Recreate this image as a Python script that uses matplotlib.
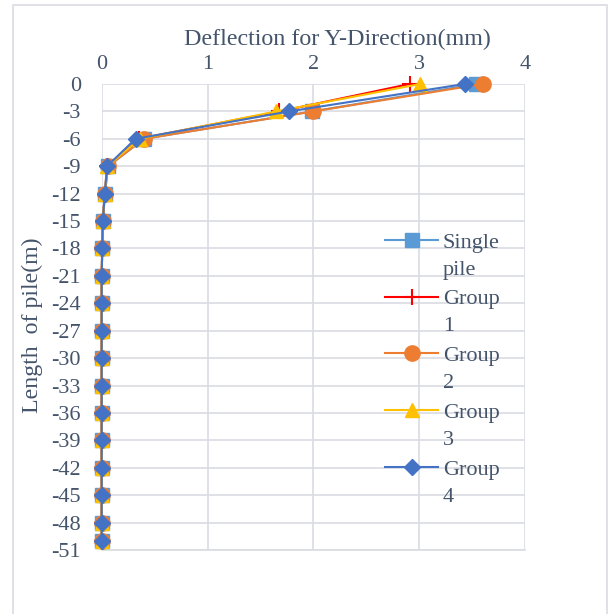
import matplotlib
matplotlib.use("Agg")
import matplotlib.pyplot as plt
from matplotlib.patches import Rectangle

# Pile depth (m) and lateral deflection in Y direction (mm)
depth = [0, -3, -6, -9, -12, -15, -18, -21, -24, -27, -30, -33, -36, -39, -42, -45, -48, -50]
single_pile = [3.54, 1.99, 0.40, 0.06, 0.03, 0.01, 0.005, 0.0, 0.0, 0.0, 0.0, 0.0, 0.0, 0.0, 0.0, 0.0, 0.0, 0.0]
group_1 = [2.91, 1.68, 0.35, 0.05, 0.03, 0.01, 0.005, 0.0, 0.0, 0.0, 0.0, 0.0, 0.0, 0.0, 0.0, 0.0, 0.0, 0.0]
group_2 = [3.60, 2.00, 0.40, 0.06, 0.03, 0.01, 0.005, 0.0, 0.0, 0.0, 0.0, 0.0, 0.0, 0.0, 0.0, 0.0, 0.0, 0.0]
group_3 = [3.01, 1.65, 0.36, 0.05, 0.03, 0.01, 0.005, 0.0, 0.0, 0.0, 0.0, 0.0, 0.0, 0.0, 0.0, 0.0, 0.0, 0.0]
group_4 = [3.43, 1.77, 0.32, 0.05, 0.03, 0.01, 0.005, 0.0, 0.0, 0.0, 0.0, 0.0, 0.0, 0.0, 0.0, 0.0, 0.0, 0.0]

# legend names, wrapped over two lines
label_first = ["Single", "Group", "Group", "Group", "Group"]
label_second = ["pile", "1", "2", "3", "4"]
x_ticks = [0, 1, 2, 3, 4]
y_ticks = list(range(0, -52, -3))

text_color = "#44546A"
grid_color = "#D9DCE3"
plt.rcParams["font.family"] = ["Liberation Serif", "DejaVu Serif"]
plt.rcParams["axes.unicode_minus"] = False

W, H = 608, 614
fig = plt.figure(figsize=(W / 100, H / 100), dpi=100)
fig.patches.append(Rectangle((13 / W, -0.05), 594 / W, 1 - 5 / H + 0.05,
                             transform=fig.transFigure, fill=False,
                             edgecolor=grid_color, linewidth=1.2))

ax = fig.add_axes([101.7 / W, 1 - 550 / H, 423.3 / W, 466 / H])

styles = [
    dict(color="#5B9BD5", marker="s", ms=10.5),
    dict(color="#FF0000", marker="+", ms=11, mew=1.5),
    dict(color="#ED7D31", marker="o", ms=11),
    dict(color="#FFC000", marker="^", ms=10),
    dict(color="#4472C4", marker="D", ms=8),
]
series = [single_pile, group_1, group_2, group_3, group_4]
for vals, lab, st in zip(series, label_first, styles):
    ax.plot(vals, depth, label=lab, lw=1.5, clip_on=False, zorder=3, **st)

ax.set_xlim(0, 4)
ax.set_ylim(-51, 0)
ax.set_xticks(x_ticks)
ax.set_yticks(y_ticks)
ax.xaxis.tick_top()
ax.tick_params(axis="both", length=0, labelsize=16, labelcolor=text_color)
ax.tick_params(axis="x", pad=7)
ax.tick_params(axis="y", pad=15)
ax.grid(True, color=grid_color, linewidth=1.2)
ax.set_axisbelow(True)
for sp in ax.spines.values():
    sp.set_visible(False)
ax.spines["bottom"].set_visible(True)
ax.spines["bottom"].set_color(grid_color)
ax.spines["bottom"].set_linewidth(1.2)

fig.text(337 / W, 1 - 45 / H, "Deflection for Y-Direction(mm)", fontsize=17.3,
         color=text_color, ha="center", va="baseline")
fig.text(32 / W, 1 - 325 / H, "Length  of pile(m)", rotation=90, fontsize=17.2,
         color=text_color, ha="center", va="center")

leg = ax.legend(loc="upper left", bbox_to_anchor=(385 / W, 1 - 232 / H),
                bbox_transform=fig.transFigure, frameon=False, fontsize=16,
                handlelength=2.4, handletextpad=0.2, labelspacing=1.63,
                borderpad=0, borderaxespad=0)
for t in leg.get_texts():
    t.set_color(text_color)

# second line of each legend name, placed one text line below the first
fig.canvas.draw()
inv = fig.transFigure.inverted()
for t, word in zip(leg.get_texts(), label_second):
    bb = t.get_window_extent()
    x0, y1 = inv.transform((bb.x0, bb.y1 - 27))
    fig.text(x0, y1, word, fontsize=16, color=text_color, ha="left", va="top")

fig.savefig("out.png", dpi=100)
